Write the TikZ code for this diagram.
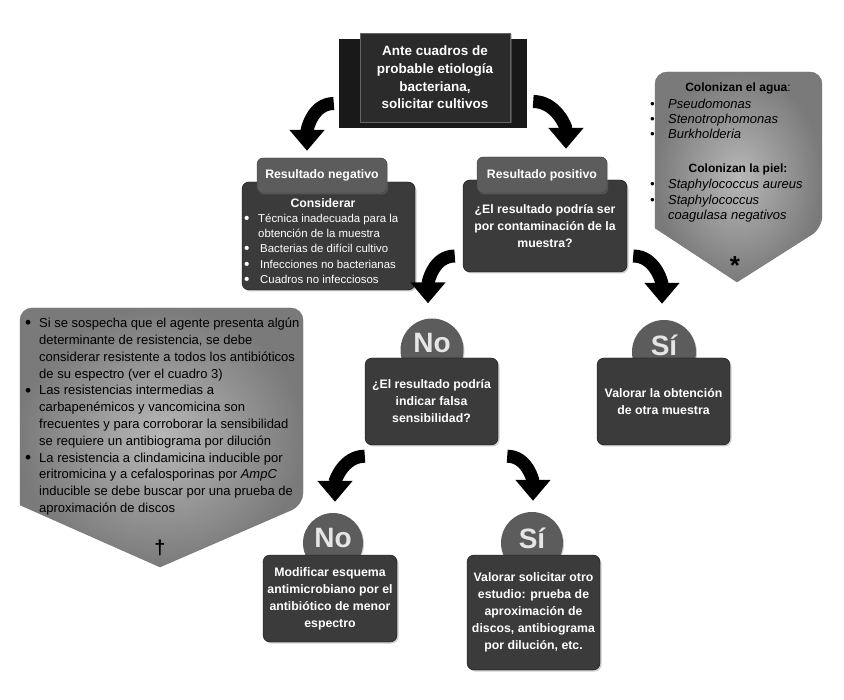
\documentclass[tikz,border=0pt]{standalone}
\usepackage{fontspec}
\setmainfont{Liberation Sans}
\usetikzlibrary{arrows.meta,shadows}

\newcommand{\itembul}[1][14pt]{\makebox[#1][l]{\raisebox{-0.08em}{\scalebox{1.35}{\textbullet}}}}
\newcommand{\plainbul}[1][18pt]{\makebox[#1][l]{\textbullet}}

\tikzset{
  boxfont/.style={font=\bfseries\fontsize{12.3}{17}\selectfont},
  whitetext/.style={text=white, boxfont, align=center, inner sep=0pt},
  darkbox/.style={draw=black!95, fill=black!77, rounded corners=7pt, inner sep=0pt, whitetext,
    drop shadow={opacity=0.4,shadow xshift=1.5pt,shadow yshift=-1.5pt}},
  tabbox/.style={draw=black!75, fill=black!64, rounded corners=6pt, inner sep=0pt, whitetext,
    drop shadow={opacity=0.4,shadow xshift=1pt,shadow yshift=-1.5pt}},
  bubble/.style={circle, fill=black!64, inner sep=0pt,
    drop shadow={opacity=0.4,shadow xshift=1pt,shadow yshift=-1pt}},
  bubtext/.style={text=black!10, inner sep=0pt, font=\bfseries\fontsize{28}{28}\selectfont},
  bigarrow/.style={line width=13pt, -{Triangle[width=34pt,length=21pt]}},
  greybox/.style={draw=black!55, inner color=black!28, outer color=black!52},
  blacktext/.style={text=black, inner sep=0pt},
}

\begin{document}
\begin{tikzpicture}[x=1pt,y=1pt]
  \useasboundingbox (0,0) rectangle (844,-700);

  % grey side notes
  \shadedraw[greybox] (737,-282) -- (655,-228) [rounded corners=12pt] -- (655,-72) -- (822,-72) -- (822,-228) [sharp corners] -- cycle;
  \node[blacktext, font=\bfseries\fontsize{12}{15}\selectfont] (agua) at (738,-88) {Colonizan el agua{\mdseries:}};
  \node[blacktext, anchor=north west, align=left, font=\itshape\fontsize{13}{15}\selectfont] (agualist) at (650,-99)
    {\plainbul\textit{Pseudomonas}\\\plainbul Stenotrophomonas\\\plainbul Burkholderia};
  \node[blacktext, font=\bfseries\fontsize{12}{15}\selectfont] (piel) at (738,-169) {Colonizan la piel:};
  \node[blacktext, anchor=north west, align=left, font=\itshape\fontsize{13}{15.5}\selectfont] (piellist) at (650,-179)
    {\plainbul Staphylococcus aureus\\\plainbul Staphylococcus\\\hspace*{18pt}coagulasa negativos};
  \node[blacktext, font=\bfseries\fontsize{26}{26}\selectfont] (aster) at (735,-266) {*};

  \shadedraw[greybox] (160,-567) -- (20,-505) [rounded corners=12pt] -- (20,-308) -- (303,-308) -- (303,-505) [sharp corners] -- cycle;
  \node[blacktext, anchor=north west, align=left, font=\fontsize{13}{16.8}\selectfont] (resist) at (25,-318)
    {\itembul Si se sospecha que el agente presenta algún\\
     \hspace*{14pt}determinante de resistencia, se debe\\
     \hspace*{14pt}considerar resistente a todos los antibióticos\\
     \hspace*{14pt}de su espectro (ver el cuadro 3)\\
     \itembul Las resistencias intermedias a\\
     \hspace*{14pt}carbapenémicos y vancomicina son\\
     \hspace*{14pt}frecuentes y para corroborar la sensibilidad\\
     \hspace*{14pt}se requiere un antibiograma por dilución\\
     \itembul La resistencia a clindamicina inducible por\\
     \hspace*{14pt}eritromicina y a cefalosporinas por \textit{AmpC}\\
     \hspace*{14pt}inducible se debe buscar por una prueba de\\
     \hspace*{14pt}aproximación de discos};
  \node[blacktext, font=\bfseries\fontsize{20}{20}\selectfont] (cruz) at (160,-548) {†};

  % top banner
  \node[fill=black!90, minimum width=188pt, minimum height=89pt, inner sep=0pt] (topback) at (433,-83.5) {};
  \node[fill=black!83, draw=black!60, minimum width=150pt, minimum height=89pt, whitetext,
        font=\bfseries\fontsize{13.5}{17.6}\selectfont,
        drop shadow={opacity=0.4,shadow xshift=1.5pt,shadow yshift=-1.5pt}] (top) at (435,-77.5)
    {Ante cuadros de\\probable etiología\\bacteriana,\\solicitar cultivos};

  % first level
  \node[darkbox, minimum width=173pt, minimum height=108pt] (negbox) at (328.5,-236) {};
  \node[tabbox, minimum width=130pt, minimum height=35pt] (negtab) at (322,-175.5) {Resultado negativo};
  \node[whitetext] (consid) at (323,-203) {Considerar};
  \node[text=white, anchor=north west, align=left, inner sep=0pt, font=\fontsize{11.4}{15.2}\selectfont] (neglist) at (244,-214)
    {\itembul Técnica inadecuada para la\\\hspace*{14pt}obtención de la muestra\\
     \itembul[16pt]Bacterias de difícil cultivo\\\itembul[16pt]Infecciones no bacterianas\\
     \itembul[16pt]Cuadros no infecciosos};

  \node[darkbox, minimum width=164pt, minimum height=92pt] (posbox) at (545,-226)
    {¿El resultado podría ser\\por contaminación de la\\muestra?};
  \node[tabbox, minimum width=130pt, minimum height=36pt] (postab) at (542,-175) {Resultado positivo};

  % second level
  \node[bubble, minimum size=63pt] (nocirc) at (432,-350) {};
  \node[bubtext] (notxt) at ([yshift=7pt]nocirc.center) {No};
  \node[darkbox, minimum width=133pt, minimum height=87pt] (nobox) at (431.5,-401.5)
    {¿El resultado podría\\indicar falsa\\sensibilidad?};

  \node[bubble, minimum size=64pt] (sicirc) at (664,-352) {};
  \node[bubtext] (sitxt) at ([yshift=7pt]sicirc.center) {Sí};
  \node[darkbox, minimum width=133pt, minimum height=87pt] (sibox) at (663.5,-401.5)
    {Valorar la obtención\\de otra muestra};

  % third level
  \node[bubble, minimum size=60pt] (nocirc2) at (333,-543) {};
  \node[bubtext] (notxt2) at ([yshift=5pt]nocirc2.center) {No};
  \node[darkbox, minimum width=134pt, minimum height=87pt] (nobox2) at (330,-598.5)
    {Modificar esquema\\antimicrobiano por el\\antibiótico de menor\\espectro};

  \node[bubble, minimum size=62pt] (sicirc2) at (532,-543) {};
  \node[bubtext] (sitxt2) at ([yshift=5pt]sicirc2.center) {Sí};
  \node[darkbox, minimum width=133pt, minimum height=115pt] (sibox2) at (533.5,-612.5)
    {Valorar solicitar otro\\estudio: prueba de\\aproximación de\\discos, antibiograma\\por dilución, etc.};

  % arrows
  \draw[bigarrow] ([xshift=-5pt,yshift=-20pt]topback.west) to[out=180,in=90] ([xshift=-15pt,yshift=7pt]negtab.north);
  \draw[bigarrow] ([xshift=6pt,yshift=-18pt]topback.east) to[out=0,in=90] ([xshift=24pt,yshift=8pt]postab.north);
  \draw[bigarrow] ([xshift=-8pt,yshift=-30pt]posbox.west) to[out=180,in=90] ([xshift=-4pt,yshift=15pt]nocirc.north);
  \draw[bigarrow] ([xshift=6pt,yshift=-30pt]posbox.east) to[out=0,in=90] ([xshift=-2pt,yshift=16pt]sicirc.north);
  \draw[bigarrow] ([yshift=-11pt]nobox.south west) to[out=180,in=90] ([xshift=2pt,yshift=11pt]nocirc2.north);
  \draw[bigarrow] ([xshift=9pt,yshift=-11pt]nobox.south east) to[out=0,in=90] ([xshift=1pt,yshift=11pt]sicirc2.north);
\end{tikzpicture}
\end{document}
